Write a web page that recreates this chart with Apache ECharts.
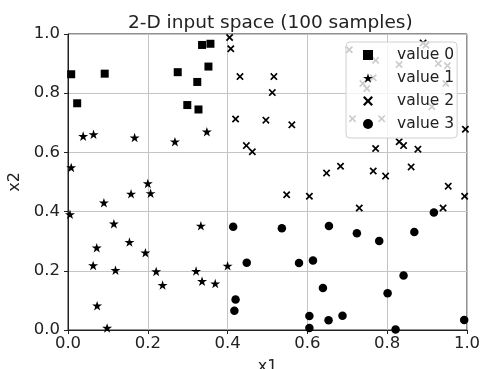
<!DOCTYPE html>
<html>
<head>
<meta charset="utf-8">
<script src="https://cdn.jsdelivr.net/npm/echarts@6/dist/echarts.min.js"></script>
<style>
html,body{margin:0;padding:0;background:#fff;}
#chart{width:483px;height:369px;}
</style>
</head>
<body>
<div id="chart"></div>
<script>
var seriesNames = ['value 0', 'value 1', 'value 2', 'value 3'];
var xTicks = [0, 0.2, 0.4, 0.6, 0.8, 1.0];
var yTicks = [0, 0.2, 0.4, 0.6, 0.8, 1.0];

var value0 = [[0.008,0.864],[0.023,0.766],[0.092,0.866],[0.275,0.871],[0.336,0.963],[0.357,0.967],[0.352,0.890],[0.324,0.838],[0.299,0.760],[0.327,0.745]];

var value1 = [[0.038,0.655],[0.064,0.661],[0.167,0.650],[0.268,0.636],[0.348,0.670],[0.008,0.549],[0.200,0.495],[0.207,0.462],[0.158,0.460],[0.090,0.430],[0.005,0.391],[0.115,0.359],[0.333,0.352],[0.072,0.278],[0.154,0.297],[0.194,0.261],[0.063,0.218],[0.119,0.202],[0.221,0.198],[0.321,0.199],[0.400,0.217],[0.237,0.152],[0.336,0.165],[0.369,0.157],[0.073,0.082],[0.098,0.007]];

var value2 = [[0.405,0.988],[0.408,0.950],[0.431,0.856],[0.516,0.856],[0.512,0.802],[0.420,0.713],[0.496,0.709],[0.561,0.693],[0.447,0.623],[0.462,0.602],[0.548,0.457],[0.605,0.452],[0.648,0.530],[0.683,0.553],[0.730,0.412],[0.765,0.537],[0.796,0.520],[0.771,0.613],[0.830,0.636],[0.841,0.623],[0.877,0.611],[0.860,0.551],[0.953,0.486],[0.940,0.412],[0.994,0.452],[0.996,0.678],
[0.705,0.947],[0.771,0.911],[0.830,0.897],[0.890,0.970],[0.897,0.962],[0.928,0.900],[0.951,0.893],[0.765,0.852],[0.739,0.833],[0.749,0.816],[0.947,0.833],[0.912,0.754],[0.713,0.714],[0.786,0.714]];

var value3 = [[0.414,0.349],[0.536,0.344],[0.654,0.351],[0.724,0.327],[0.780,0.301],[0.868,0.331],[0.917,0.397],[0.448,0.227],[0.579,0.226],[0.614,0.235],[0.639,0.142],[0.841,0.184],[0.801,0.124],[0.420,0.103],[0.417,0.065],[0.605,0.047],[0.605,0.007],[0.653,0.033],[0.688,0.048],[0.821,0.002],[0.993,0.034]];

var SQUARE = 'path://M0,0 L10,0 L10,10 L0,10 Z';
var STAR = 'path://M0,-1 L0.2245,-0.309 L0.951,-0.309 L0.363,0.118 L0.588,0.809 L0,0.382 L-0.588,0.809 L-0.363,0.118 L-0.951,-0.309 L-0.2245,-0.309 Z';
var CROSS = 'path://M1.6,0 L5,3.4 L8.4,0 L10,1.6 L6.6,5 L10,8.4 L8.4,10 L5,6.6 L1.6,10 L0,8.4 L3.4,5 L0,1.6 Z';

var chart = echarts.init(document.getElementById('chart'));
var font = 'DejaVu Sans';
function mk(name, data, symbol, size) {
  return {
    name: name, type: 'scatter', data: data, symbol: symbol, symbolSize: size,
    symbolKeepAspect: true,
    itemStyle: { color: '#000', opacity: 1 },
    emphasis: { disabled: true }
  };
}
chart.setOption({
  animation: false,
  title: {
    text: '2-D input space (100 samples)',
    left: 123, top: 9,
    textStyle: { fontFamily: font, fontSize: 18.5, fontWeight: 'normal', color: '#222' }
  },
  grid: {
    left: 68, right: 16, top: 34, bottom: 39,
    outerBoundsMode: 'none', containLabel: false,
    show: true, borderColor: '#222', borderWidth: 1, backgroundColor: 'transparent'
  },
  legend: {
    orient: 'vertical', left: 346, top: 42,
    padding: [5, 3, 6, 17],
    itemGap: 7, itemWidth: 10, itemHeight: 10,
    backgroundColor: 'rgba(255,255,255,0.8)',
    borderColor: '#d0d0d0', borderWidth: 1, borderRadius: 4,
    textStyle: { fontFamily: font, fontSize: 15.5, color: '#222', padding: [0, 0, 0, 19] },
    data: seriesNames
  },
  xAxis: {
    type: 'value', min: 0, max: 1, interval: 0.2,
    name: 'x1', nameLocation: 'middle', nameGap: 29,
    nameTextStyle: { fontFamily: font, fontSize: 16, color: '#222' },
    axisLine: { show: true, lineStyle: { color: '#222' } },
    axisTick: { show: true, length: 4, lineStyle: { color: '#222' } },
    axisLabel: { fontFamily: font, fontSize: 16.5, color: '#222', margin: 5,
      formatter: function (v) { return v.toFixed(1); } },
    splitLine: { show: true, lineStyle: { color: '#c4c4c4', width: 1 } }
  },
  yAxis: {
    type: 'value', min: 0, max: 1, interval: 0.2,
    name: 'x2', nameLocation: 'middle', nameGap: 38, nameRotate: 90,
    nameTextStyle: { fontFamily: font, fontSize: 16, color: '#222' },
    axisLine: { show: true, lineStyle: { color: '#222' } },
    axisTick: { show: true, length: 4, lineStyle: { color: '#222' } },
    axisLabel: { fontFamily: font, fontSize: 16.5, color: '#222', margin: 8,
      formatter: function (v) { return v.toFixed(1); } },
    splitLine: { show: true, lineStyle: { color: '#c4c4c4', width: 1 } }
  },
  series: [
    mk(seriesNames[0], value0, SQUARE, 8),
    mk(seriesNames[1], value1, STAR, 10),
    mk(seriesNames[2], value2, CROSS, 7.5),
    mk(seriesNames[3], value3, 'circle', 8.5)
  ]
});
</script>
</body>
</html>
